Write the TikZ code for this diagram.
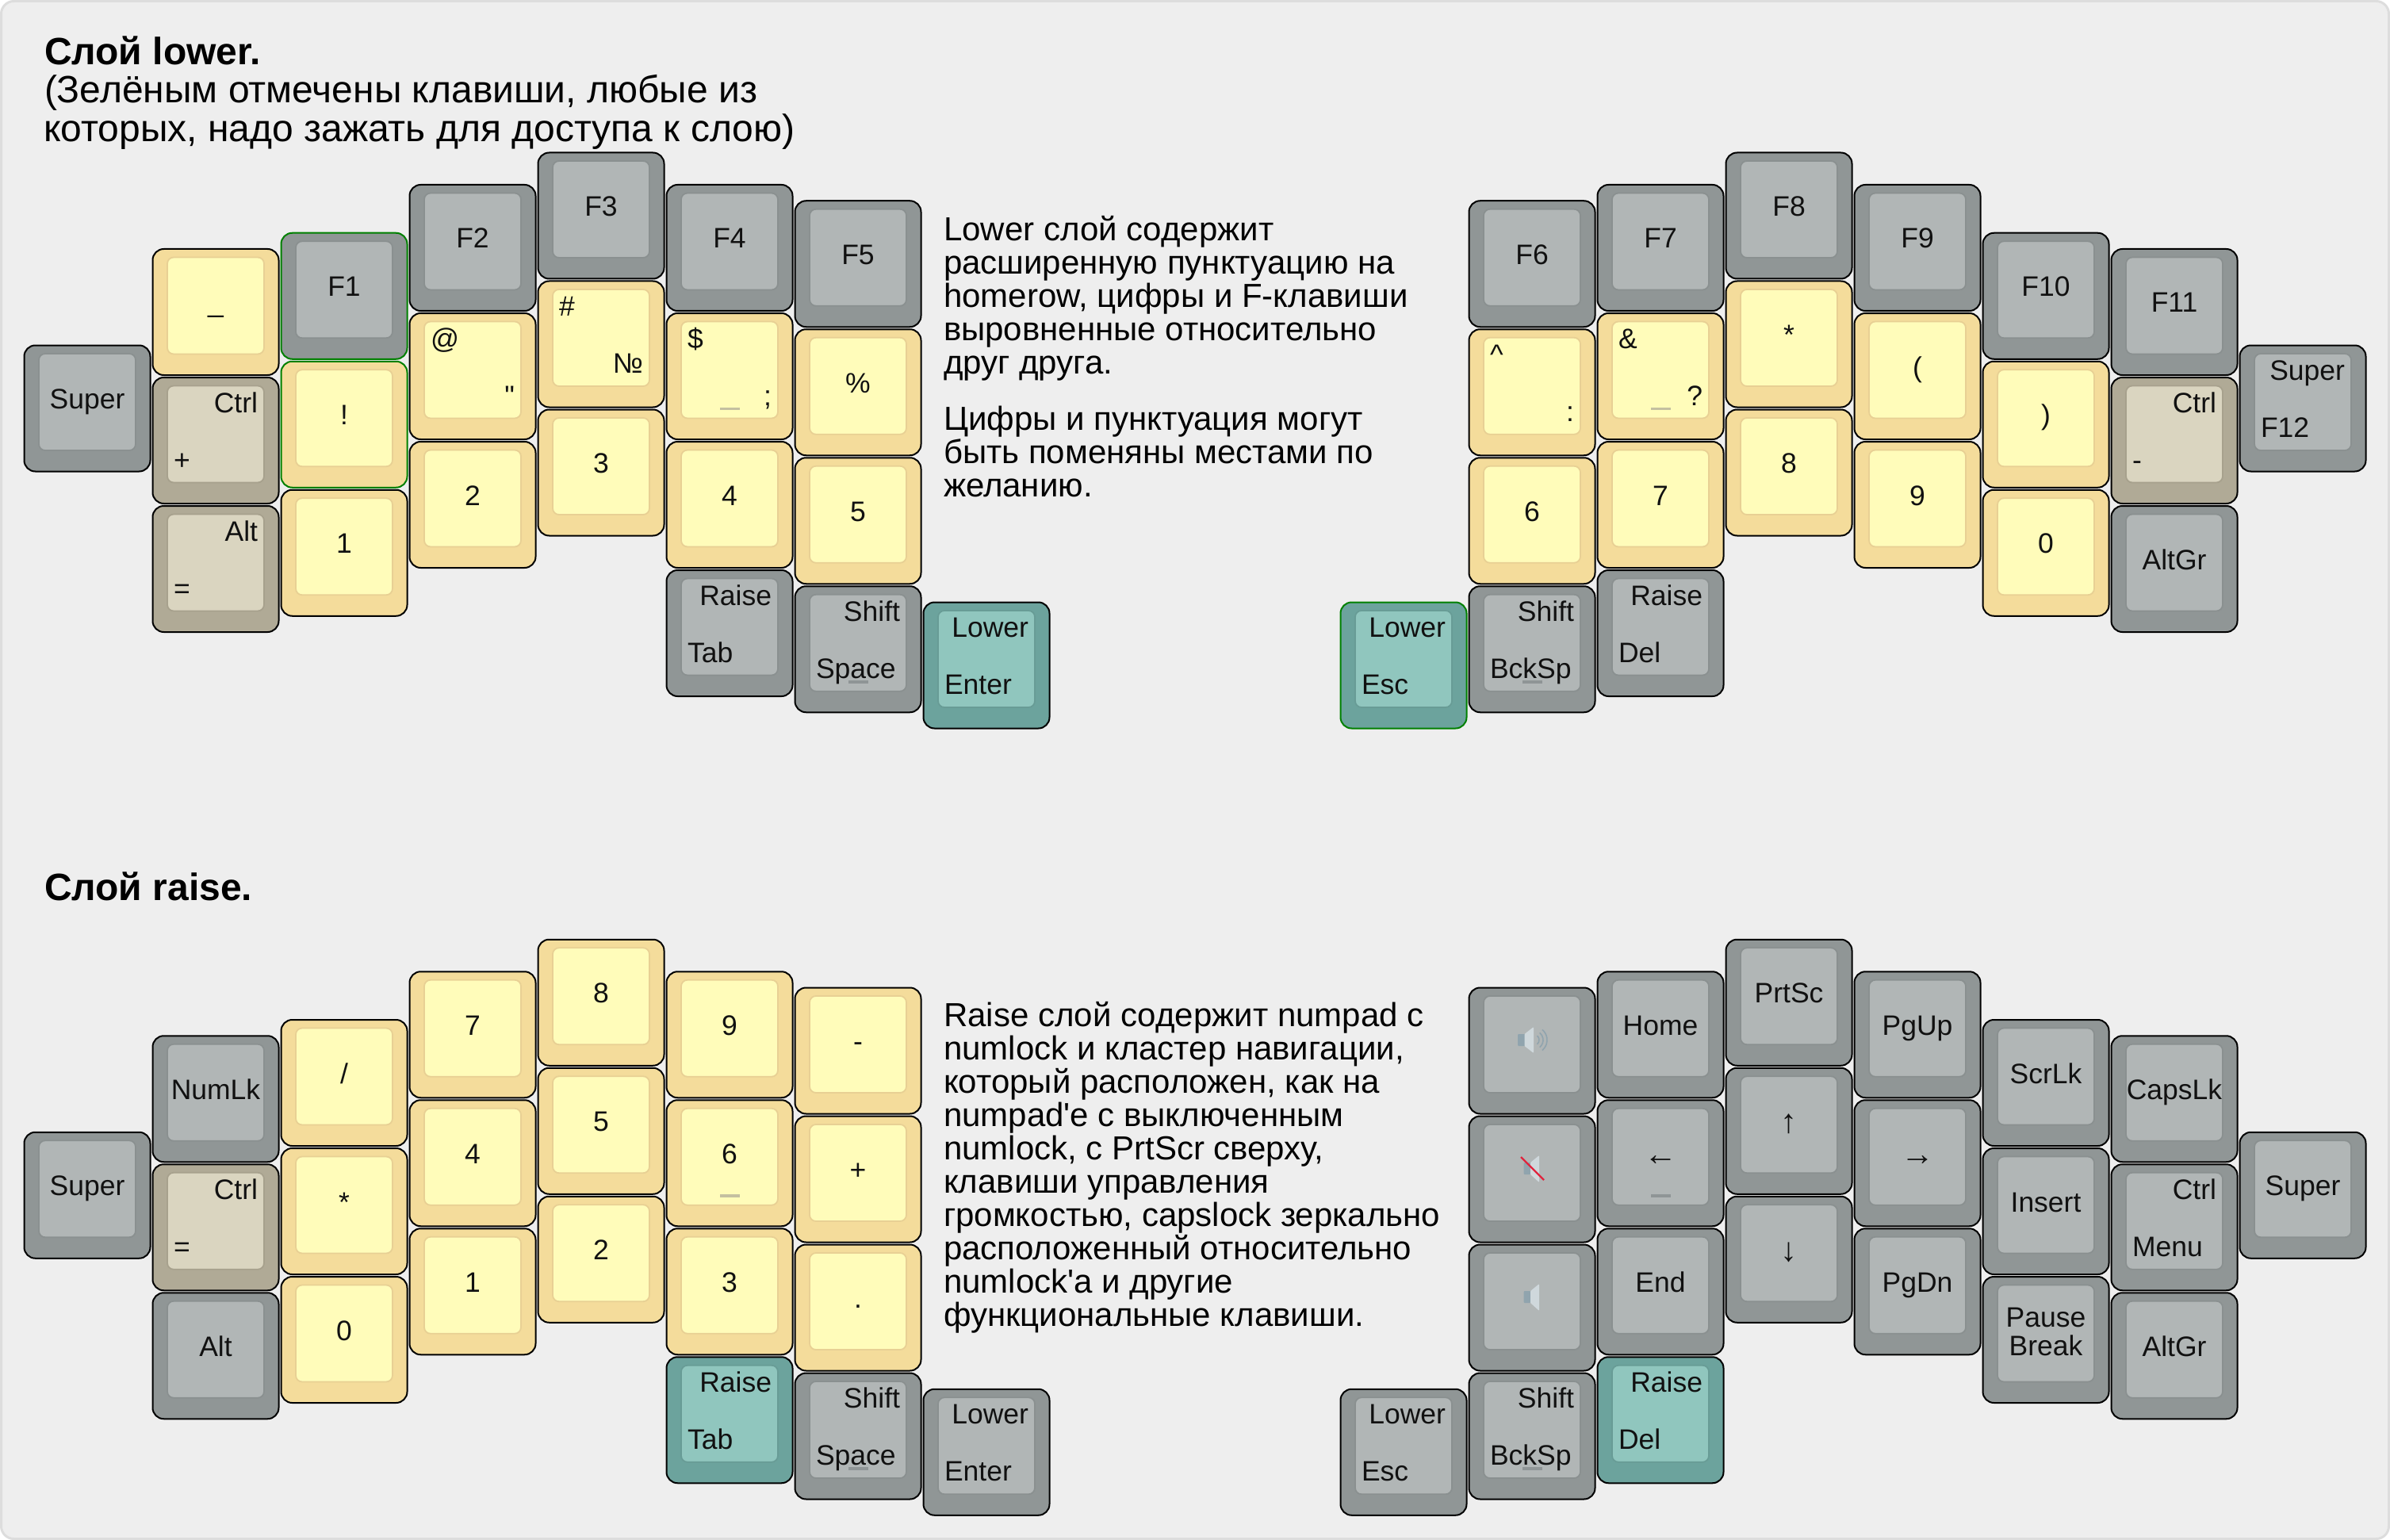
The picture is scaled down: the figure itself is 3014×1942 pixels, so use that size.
\documentclass[tikz,border=0pt]{standalone}
\usepackage{fontspec}
\setmainfont{Liberation Sans}
\newfontfamily\plainf{Liberation Sans}
\definecolor{bgfill}{HTML}{EEEEEE}
\definecolor{bgedge}{HTML}{DDDDDD}
\definecolor{gO}{HTML}{909696}\definecolor{gI}{HTML}{B1B6B6}\definecolor{gB}{HTML}{8A9090}\definecolor{gN}{HTML}{8F9596}
\definecolor{yO}{HTML}{F4DC9B}\definecolor{yI}{HTML}{FFFCBA}\definecolor{yB}{HTML}{E8D094}\definecolor{yN}{HTML}{C4C0A0}
\definecolor{mO}{HTML}{B0AA96}\definecolor{mI}{HTML}{DAD5C0}\definecolor{mB}{HTML}{A7A18D}\definecolor{mN}{HTML}{A09B87}
\definecolor{tO}{HTML}{6CA39D}\definecolor{tI}{HTML}{90C6BE}\definecolor{tB}{HTML}{689C96}\definecolor{tN}{HTML}{64968F}
\definecolor{kgreen}{HTML}{008000}
\definecolor{spkd}{HTML}{90A4AE}\definecolor{spkl}{HTML}{CFD8DC}\definecolor{spkr}{HTML}{E0243E}
\definecolor{inkc}{HTML}{111111}
\tikzset{
 x=1pt,y=-1pt,
 keyouter/.style={rectangle,rounded corners=14pt,line width=2pt,minimum width=159pt,minimum height=159pt,inner sep=0pt,outer sep=0pt,anchor=north west},
 keyinner/.style={rectangle,rounded corners=8pt,line width=1.8pt,minimum width=122pt,minimum height=122pt,inner sep=0pt,outer sep=0pt,anchor=north west},
 keytext/.style={inner sep=0pt,outer sep=0pt,text=inkc,font=\fontsize{35.5}{38}\selectfont},
 nubbar/.style={rectangle,minimum width=25pt,minimum height=3.5pt,inner sep=0pt,outer sep=0pt,draw=none},
 titletext/.style={inner sep=0pt,outer sep=0pt,anchor=base west,text=black,font=\fontsize{48}{48}\selectfont\bfseries},
 subtext/.style={inner sep=0pt,outer sep=0pt,anchor=base west,text=black,font=\fontsize{48}{48}\selectfont},
 paratext/.style={inner sep=0pt,outer sep=0pt,anchor=base west,text=black,font=\fontsize{42}{42}\selectfont},
}
\newcommand\keycap[6][black]{%
 \pgfmathsetmacro\kxx{\xb+162*#3}\pgfmathsetmacro\kyy{\yb+162*#4}%
 \def\kst{#5}%
 \begin{scope}[shift={(\kxx,\kyy)},name prefix=#2-]
  \node[keyouter,draw=#1,fill=#5O] (outer) at (0.5,0.5) {};
  \node[keyinner,draw=#5B,fill=#5I] (inner) at (19,11) {};
  #6
 \end{scope}}
\newcommand\lc[1]{\node[keytext,anchor=base] (c) at (80,80.5) {#1};}
\newcommand\la[1]{\node[keytext,anchor=base] (c) at (80,82.5) {\fontsize{42}{44}\selectfont #1};}
\newcommand\ltl[1]{\node[keytext,anchor=base west] (tl) at (27,44.5) {#1};}
\newcommand\ltr[1]{\node[keytext,anchor=base east] (tr) at (133,44.5) {#1};}
\newcommand\lbl[1]{\node[keytext,anchor=base west] (bl) at (27,116.5) {#1};}
\newcommand\lbr[1]{\node[keytext,anchor=base east] (br) at (133,116.5) {#1};}
\newcommand\nub{\node[nubbar,fill=\kst N] (nub) at (80,121) {};}
\begin{document}
\begin{tikzpicture}
\useasboundingbox (0,0) rectangle (3014,1942);
\path[fill=bgfill,draw=bgedge,line width=3pt,rounded corners=16pt] (1.5,1.5) rectangle (3012.5,1940.5);
% titles
\node[titletext] (t1) at (56,81.5) {Слой lower.};
\node[subtext] (t2) at (56,130) {(Зелёным отмечены клавиши, любые из};
\node[subtext] (t3) at (55,179) {которых, надо зажать для доступа к слою)};
\node[titletext] (t4) at (56,1135) {Слой raise.};
% paragraphs
\foreach \nm/\yy/\tx in {
 a1/303.5/{Lower слой содержит},a2/345.5/{расширенную пунктуацию на},a3/387.5/{homerow, цифры и F-клавиши},a4/429.5/{выровненные относительно},a5/471.5/{друг друга.},
 a6/542.5/{Цифры и пунктуация могут},a7/584.5/{быть поменяны местами по},a8/626.5/{желанию.},
 b1/1294/{Raise слой содержит numpad с},b2/1336/{numlock и кластер навигации,},b3/1378/{который расположен, как на},b4/1420/{numpad\textquotesingle е с выключенным},b5/1462/{numlock, с PrtScr сверху,},b6/1504/{клавиши управления},b7/1546/{громкостью, capslock зеркально},b8/1588/{расположенный относительно},b9/1630/{numlock\textquotesingle а и другие},b10/1672/{функциональные клавиши.}}
 {\node[paratext] (\nm) at (1190,\yy) {\tx};}
% ---------- lower layer, left
\def\xb{30}\def\yb{192}
\keycap{ls}{0}{1.5}{g}{\lc{Super}}
\keycap{l1a}{1}{.75}{y}{\lc{\_}}
\keycap{l1b}{1}{1.75}{m}{\ltr{Ctrl}\lbl{+}}
\keycap{l1c}{1}{2.75}{m}{\ltr{Alt}\lbl{=}}
\keycap[kgreen]{l2a}{2}{.625}{g}{\lc{F1}}
\keycap[kgreen]{l2b}{2}{1.625}{y}{\lc{!}}
\keycap{l2c}{2}{2.625}{y}{\lc{1}}
\keycap{l3a}{3}{.25}{g}{\lc{F2}}
\keycap{l3b}{3}{1.25}{y}{\ltl{@}\lbr{{\plainf"}}}
\keycap{l3c}{3}{2.25}{y}{\lc{2}}
\keycap{l4a}{4}{0}{g}{\lc{F3}}
\keycap{l4b}{4}{1}{y}{\ltl{\#}\lbr{№}}
\keycap{l4c}{4}{2}{y}{\lc{3}}
\keycap{l5a}{5}{.25}{g}{\lc{F4}}
\keycap{l5b}{5}{1.25}{y}{\nub\ltl{\$}\lbr{;}}
\keycap{l5c}{5}{2.25}{y}{\lc{4}}
\keycap{l5d}{5}{3.25}{g}{\ltr{Raise}\lbl{Tab}}
\keycap{l6a}{6}{.375}{g}{\lc{F5}}
\keycap{l6b}{6}{1.375}{y}{\lc{\%}}
\keycap{l6c}{6}{2.375}{y}{\lc{5}}
\keycap{l6d}{6}{3.375}{g}{\nub\ltr{Shift}\lbl{Space}}
\keycap{l7}{7}{3.5}{t}{\ltr{Lower}\lbl{Enter}}
% ---------- lower layer, right
\def\xb{1690}
\keycap[kgreen]{r0}{0}{3.5}{t}{\ltr{Lower}\lbl{Esc}}
\keycap{r1a}{1}{.375}{g}{\lc{F6}}
\keycap{r1b}{1}{1.375}{y}{\ltl{\symbol{94}}\lbr{:}}
\keycap{r1c}{1}{2.375}{y}{\lc{6}}
\keycap{r1d}{1}{3.375}{g}{\nub\ltr{Shift}\lbl{BckSp}}
\keycap{r2a}{2}{.25}{g}{\lc{F7}}
\keycap{r2b}{2}{1.25}{y}{\nub\ltl{\&}\lbr{?}}
\keycap{r2c}{2}{2.25}{y}{\lc{7}}
\keycap{r2d}{2}{3.25}{g}{\ltr{Raise}\lbl{Del}}
\keycap{r3a}{3}{0}{g}{\lc{F8}}
\keycap{r3b}{3}{1}{y}{\lc{*}}
\keycap{r3c}{3}{2}{y}{\lc{8}}
\keycap{r4a}{4}{.25}{g}{\lc{F9}}
\keycap{r4b}{4}{1.25}{y}{\lc{(}}
\keycap{r4c}{4}{2.25}{y}{\lc{9}}
\keycap{r5a}{5}{.625}{g}{\lc{F10}}
\keycap{r5b}{5}{1.625}{y}{\lc{)}}
\keycap{r5c}{5}{2.625}{y}{\lc{0}}
\keycap{r6a}{6}{.75}{g}{\lc{F11}}
\keycap{r6b}{6}{1.75}{m}{\ltr{Ctrl}\lbl{-}}
\keycap{r6c}{6}{2.75}{g}{\lc{AltGr}}
\keycap{r7}{7}{1.5}{g}{\ltr{Super}\lbl{F12}}
% ---------- raise layer, left
\def\xb{30}\def\yb{1184.25}
\keycap{Ls}{0}{1.5}{g}{\lc{Super}}
\keycap{L1a}{1}{.75}{g}{\lc{NumLk}}
\keycap{L1b}{1}{1.75}{m}{\ltr{Ctrl}\lbl{=}}
\keycap{L1c}{1}{2.75}{g}{\lc{Alt}}
\keycap{L2a}{2}{.625}{y}{\lc{/}}
\keycap{L2b}{2}{1.625}{y}{\lc{*}}
\keycap{L2c}{2}{2.625}{y}{\lc{0}}
\keycap{L3a}{3}{.25}{y}{\lc{7}}
\keycap{L3b}{3}{1.25}{y}{\lc{4}}
\keycap{L3c}{3}{2.25}{y}{\lc{1}}
\keycap{L4a}{4}{0}{y}{\lc{8}}
\keycap{L4b}{4}{1}{y}{\lc{5}}
\keycap{L4c}{4}{2}{y}{\lc{2}}
\keycap{L5a}{5}{.25}{y}{\lc{9}}
\keycap{L5b}{5}{1.25}{y}{\nub\lc{6}}
\keycap{L5c}{5}{2.25}{y}{\lc{3}}
\keycap{L5d}{5}{3.25}{t}{\ltr{Raise}\lbl{Tab}}
\keycap{L6a}{6}{.375}{y}{\lc{-}}
\keycap{L6b}{6}{1.375}{y}{\lc{+}}
\keycap{L6c}{6}{2.375}{y}{\lc{.}}
\keycap{L6d}{6}{3.375}{g}{\nub\ltr{Shift}\lbl{Space}}
\keycap{L7}{7}{3.5}{g}{\ltr{Lower}\lbl{Enter}}
% ---------- raise layer, right
\def\xb{1690}
\keycap{R0}{0}{3.5}{g}{\ltr{Lower}\lbl{Esc}}
\keycap{R1a}{1}{.375}{g}{}
\keycap{R1b}{1}{1.375}{g}{}
\keycap{R1c}{1}{2.375}{g}{}
\keycap{R1d}{1}{3.375}{g}{\nub\ltr{Shift}\lbl{BckSp}}
\keycap{R2a}{2}{.25}{g}{\lc{Home}}
\keycap{R2b}{2}{1.25}{g}{\nub\la{←}}
\keycap{R2c}{2}{2.25}{g}{\lc{End}}
\keycap{R2d}{2}{3.25}{t}{\ltr{Raise}\lbl{Del}}
\keycap{R3a}{3}{0}{g}{\lc{PrtSc}}
\keycap{R3b}{3}{1}{g}{\la{↑}}
\keycap{R3c}{3}{2}{g}{\la{↓}}
\keycap{R4a}{4}{.25}{g}{\lc{PgUp}}
\keycap{R4b}{4}{1.25}{g}{\la{→}}
\keycap{R4c}{4}{2.25}{g}{\lc{PgDn}}
\keycap{R5a}{5}{.625}{g}{\lc{ScrLk}}
\keycap{R5b}{5}{1.625}{g}{\lc{Insert}}
\keycap{R5c}{5}{2.625}{g}{\node[keytext,anchor=base] (p1) at (80,64) {Pause};\node[keytext,anchor=base] (p2) at (80,99.5) {Break};}
\keycap{R6a}{6}{.75}{g}{\lc{CapsLk}}
\keycap{R6b}{6}{1.75}{g}{\ltr{Ctrl}\lbl{Menu}}
\keycap{R6c}{6}{2.75}{g}{\lc{AltGr}}
\keycap{R7}{7}{1.5}{g}{\lc{Super}}
% ---------- speaker icons
\fill[spkd,rounded corners=1pt] (1914,1304) rectangle (1923,1319);
\fill[spkl,rounded corners=1pt] (1922.5,1304) -- (1934,1295) -- (1934,1328) -- (1922.5,1319) -- cycle;
\foreach \r/\ang in {7/50,12/50,17/50}
 \draw[spkd,line width=1.6pt] (1934,1311.5) ++(-\ang:\r pt) arc[start angle=-\ang,end angle=\ang,radius=\r pt];
\fill[spkd,rounded corners=1pt] (1921.5,1466) rectangle (1930,1481);
\fill[spkl,rounded corners=1pt] (1930,1466) -- (1941,1457) -- (1941,1491) -- (1930,1481) -- cycle;
\draw[spkr,line width=2.2pt] (1918,1459) -- (1947,1488);
\fill[spkd,rounded corners=1pt] (1921.5,1628) rectangle (1930,1643);
\fill[spkl,rounded corners=1pt] (1930,1628) -- (1941,1619) -- (1941,1653) -- (1930,1643) -- cycle;
\end{tikzpicture}
\end{document}
